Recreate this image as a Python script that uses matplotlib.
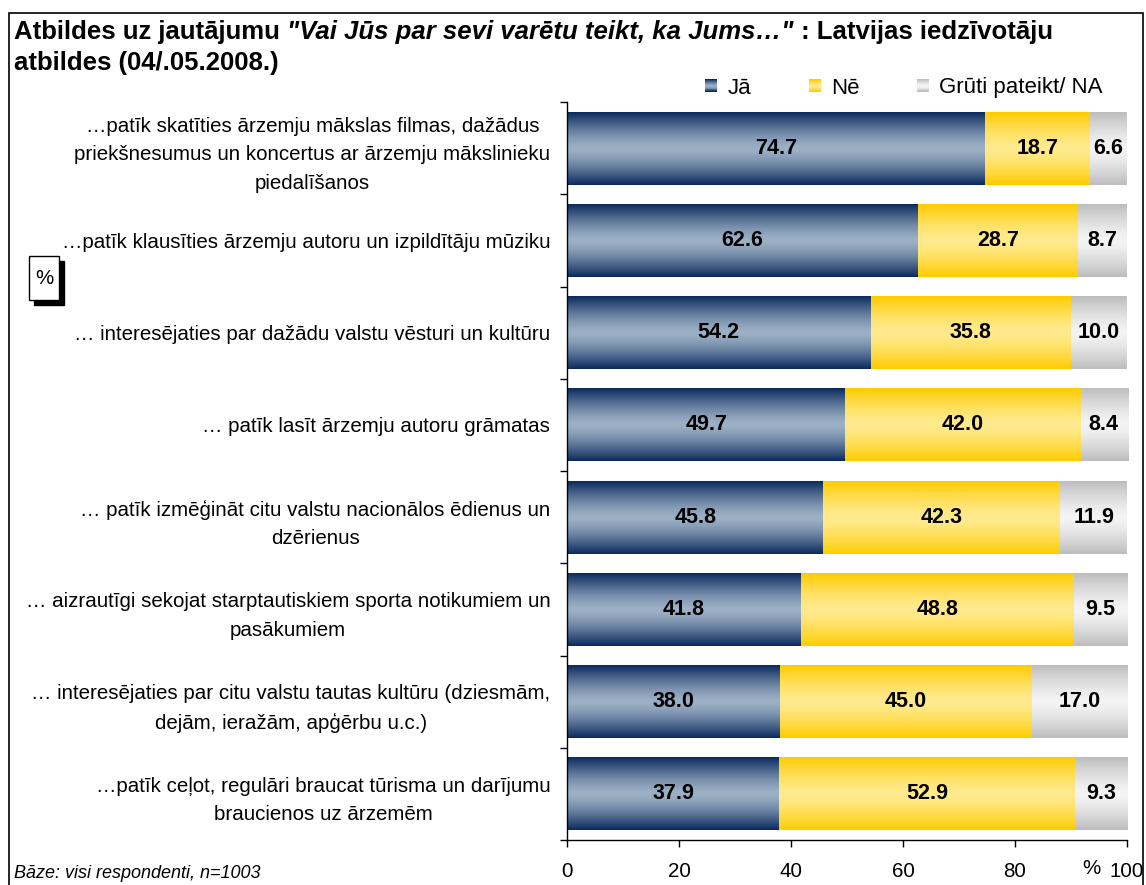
import numpy as np
import matplotlib
matplotlib.use("Agg")
import matplotlib.pyplot as plt
from matplotlib.patches import Rectangle
from matplotlib.legend_handler import HandlerBase

plt.rcParams['font.family'] = ['Liberation Sans', 'DejaVu Sans']

categories = [
    "…patīk skatīties ārzemju mākslas filmas, dažādus\npriekšnesumus un koncertus ar ārzemju mākslinieku\npiedalīšanos",
    "…patīk klausīties ārzemju autoru un izpildītāju mūziku",
    "… interesējaties par dažādu valstu vēsturi un kultūru",
    "… patīk lasīt ārzemju autoru grāmatas",
    "… patīk izmēģināt citu valstu nacionālos ēdienus un\ndzērienus",
    "… aizrautīgi sekojat starptautiskiem sporta notikumiem un\npasākumiem",
    "… interesējaties par citu valstu tautas kultūru (dziesmām,\ndejām, ieražām, apģērbu u.c.)",
    "…patīk ceļot, regulāri braucat tūrisma un darījumu\nbraucienos uz ārzemēm",
]
ja = [74.7, 62.6, 54.2, 49.7, 45.8, 41.8, 38.0, 37.9]
ne = [18.7, 28.7, 35.8, 42.0, 42.3, 48.8, 45.0, 52.9]
gp = [6.6, 8.7, 10.0, 8.4, 11.9, 9.5, 17.0, 9.3]
series_names = ["Jā", "Nē", "Grūti pateikt/ NA"]
xticks = [0, 20, 40, 60, 80, 100]
xticklabels = ["0", "20", "40", "60", "80", "100"]

# gradient colours (edge, middle)
grads = [("#0b2b5e", "#9db1c6"), ("#ffcc00", "#ffea8f"), ("#bdbdbd", "#f4f4f4")]

W, H = 1146, 885
fig = plt.figure(figsize=(W / 100, H / 100), dpi=100)
ax = fig.add_axes([567 / W, 1 - 840 / H, 560 / W, 738 / H])

FS = 14.8


def grad_colors(edge, mid, n=80, power=1.4):
    e = np.array(matplotlib.colors.to_rgb(edge))
    m = np.array(matplotlib.colors.to_rgb(mid))
    t = np.linspace(0, 1, n)
    d = np.abs(2 * t - 1) ** power
    return m[None, :] + (e - m)[None, :] * d[:, None]


y = np.arange(len(categories))
left = np.zeros(len(categories))
for vals, name, (edge, mid) in zip([ja, ne, gp], series_names, grads):
    bars = ax.barh(y, vals, left=left, height=0.79, color=edge, edgecolor='none', label=name)
    img = grad_colors(edge, mid)[:, None, :]
    for r in bars:
        x0, y0 = r.get_xy()
        im = ax.imshow(img, extent=(x0, x0 + r.get_width(), y0, y0 + r.get_height()),
                       aspect='auto', interpolation='bilinear', zorder=r.get_zorder() + 0.1)
        im.set_clip_path(r)
    lbl = ax.bar_label(bars, labels=[f"{v:.1f}" for v in vals], label_type='center',
                       fontsize=15.5, fontweight='bold', color='black')
    for t in lbl:
        t.set_zorder(5)
    left = left + np.array(vals)

ax.set_xlim(0, 100)
ax.set_ylim(len(categories) - 0.5, -0.5)
ax.set_xticks(xticks)
ax.set_xticklabels(xticklabels, fontsize=FS)
ax.tick_params(axis='x', direction='out', length=5, width=1, pad=11)
ax.set_yticks(y)
ax.set_yticklabels(categories, fontsize=FS, linespacing=1.62)
for t in ax.get_yticklabels():
    t.set_multialignment('center')
ax.tick_params(axis='y', which='major', length=0, pad=12)
ax.set_yticks(np.arange(-0.5, len(categories), 1.0), minor=True)
ax.tick_params(axis='y', which='minor', direction='out', length=5, width=1)
for s in ['top', 'right']:
    ax.spines[s].set_visible(False)
ax.spines['left'].set_linewidth(1)
ax.spines['bottom'].set_linewidth(1)
ax.annotate("%", xy=(100, 0), xycoords=('data', 'axes fraction'), xytext=(-36, -28),
            textcoords='offset pixels', ha='center', va='center', fontsize=FS)


class GradHandler(HandlerBase):
    def __init__(self, edge, mid):
        super().__init__()
        self.cols = grad_colors(edge, mid, n=14)

    def create_artists(self, legend, orig_handle, xdescent, ydescent, width, height, fontsize, trans):
        arts = []
        n = len(self.cols)
        for i, c in enumerate(self.cols):
            arts.append(Rectangle((-xdescent, -ydescent + height * i / n), width, height / n + 0.3,
                                  facecolor=c, edgecolor='none', transform=trans))
        return arts


handles, labs = ax.get_legend_handles_labels()
fig.legend(handles, labs, loc='center', bbox_to_anchor=(904 / W, 1 - 88 / H), ncol=3, frameon=False,
           fontsize=16, handlelength=0.55, handleheight=0.55, handletextpad=0.45, columnspacing=2.6,
           handler_map={h: GradHandler(*g) for h, g in zip(handles, grads)})

# title with mixed styles
fig.canvas.draw()
renderer = fig.canvas.get_renderer()
TFS = 18.5
space = TFS * 0.278 * 100 / 72
x = 14
yb1 = 1 - 39 / H
pieces = [("Atbildes uz jautājumu", 'normal'), ('"Vai Jūs par sevi varētu teikt, ka Jums…"', 'italic'),
          (": Latvijas iedzīvotāju", 'normal')]
for s, st in pieces:
    t = fig.text(x / W, yb1, s, fontsize=TFS, fontweight='bold', style=st, va='baseline', ha='left')
    bb = t.get_window_extent(renderer)
    x = bb.x1 + space
fig.text(14 / W, 1 - 70 / H, "atbildes (04/.05.2008.)", fontsize=TFS, fontweight='bold',
         va='baseline', ha='left')

# footnote
fig.text(14 / W, 1 - 873 / H, "Bāze: visi respondenti, n=1003", fontsize=13, style='italic',
         va='center', ha='left')

# % box with shadow
fig.patches.append(Rectangle((34 / W, 1 - 305 / H), 30 / W, 44 / H, transform=fig.transFigure,
                             facecolor='black', edgecolor='black', zorder=1))
fig.patches.append(Rectangle((29 / W, 1 - 300 / H), 30 / W, 44 / H, transform=fig.transFigure,
                             facecolor='white', edgecolor='black', linewidth=1, zorder=2))
fig.text(44 / W, 1 - 278 / H, "%", fontsize=FS, ha='center', va='center', zorder=3)

# outer border
fig.patches.append(Rectangle((9 / W, -0.02), 1134 / W, 1 - 13 / H + 0.02, transform=fig.transFigure,
                             facecolor='none', edgecolor='black', linewidth=1.2, zorder=0))

fig.savefig("out.png", dpi=100)
